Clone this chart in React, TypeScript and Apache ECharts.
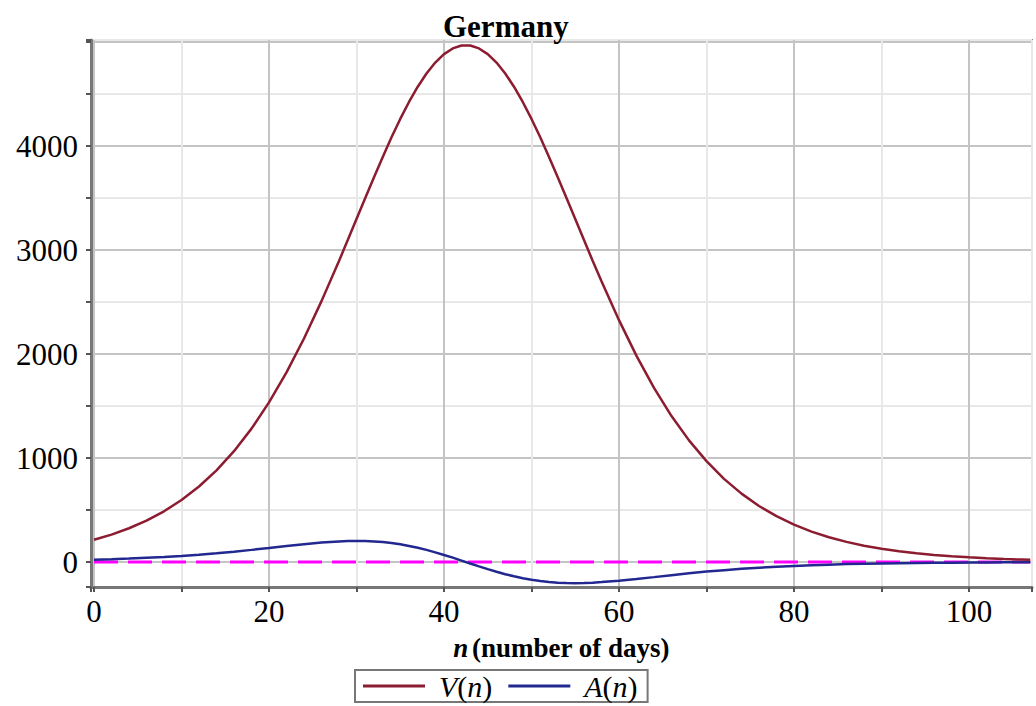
import React, { useEffect, useRef } from "react";
import * as echarts from "echarts";

const days = [0, 2, 4, 6, 8, 10, 12, 14, 16, 18, 20, 22, 24, 26, 28, 29, 30, 31, 32, 33, 34, 35, 36, 37, 38, 39, 40, 41, 42, 43, 44, 45, 46, 47, 48, 49, 50, 51, 52, 53, 54, 55, 56, 57, 58, 60, 62, 64, 66, 68, 70, 72, 74, 76, 78, 80, 82, 84, 86, 88, 90, 92, 94, 96, 98, 100, 102, 104, 106, 107];
const vValues = [215, 264, 325, 398, 488, 596, 726, 881, 1066, 1283, 1535, 1824, 2150, 2509, 2895, 3096, 3298, 3500, 3701, 3896, 4084, 4261, 4424, 4571, 4698, 4803, 4884, 4939, 4967, 4967, 4939, 4884, 4803, 4698, 4571, 4424, 4261, 4084, 3896, 3701, 3500, 3298, 3096, 2895, 2700, 2326, 1983, 1675, 1404, 1170, 970, 800, 658, 539, 441, 360, 293, 238, 194, 157, 128, 104, 84, 68, 55, 45, 36, 29, 24, 21];
const aValues = [22, 27, 33, 41, 49, 59, 71, 85, 100, 117, 135, 154, 172, 187, 198, 202, 203, 202, 198, 192, 183, 171, 155, 137, 117, 93, 68, 42, 14, -14, -42, -68, -93, -117, -137, -155, -171, -183, -192, -198, -202, -203, -202, -198, -193, -180, -163, -145, -126, -108, -92, -78, -65, -54, -45, -37, -30, -25, -20, -16, -13, -11, -9, -7, -6, -5, -4, -3, -3, -2];
const zeroLine = [[0, 0], [107, 0]];
const seriesNames = ["V(n)", "A(n)"];
const titleText = "Germany";
const xName = "(number of days)";

const FONT = "Liberation Serif";

export default function App() {
  const ref = useRef<HTMLDivElement>(null);
  useEffect(() => {
    if (!ref.current) return;
    const chart = echarts.init(ref.current, null, { renderer: "svg" });
    const vData = days.map((d, i) => [d, vValues[i]]);
    const aData = days.map((d, i) => [d, aValues[i]]);
    chart.setOption({
      animation: false,
      backgroundColor: "#ffffff",
      title: {
        text: titleText,
        left: 438,
        top: 6,
        textStyle: { fontFamily: FONT, fontSize: 31, fontWeight: "bold", color: "#000" },
      },
      legend: {
        data: seriesNames,
        left: 355,
        top: 670,
        icon: "rect",
        itemWidth: 62,
        itemHeight: 3,
        itemGap: 16,
        padding: [1, 10, 1, 8],
        borderColor: "#777",
        borderWidth: 2,
        formatter: (name: string) =>
          name === "V(n)" ? "{s|}{i|V}{u|(}{i|n}{u|)}" : "{s|}{i|A}{u|(}{i|n}{u|)}",
        textStyle: {
          fontFamily: FONT,
          fontSize: 30,
          color: "#000",
          rich: {
            s: { width: 9, fontSize: 14 },
            i: { fontFamily: FONT, fontSize: 30, fontStyle: "italic", color: "#000" },
            u: { fontFamily: FONT, fontSize: 30, color: "#000" },
          },
        },
      },
      grid: {
        left: 91,
        right: 4,
        top: 40,
        bottom: 119,
        show: true,
        borderColor: "#888",
        borderWidth: 2,
        containLabel: false,
      },
      xAxis: {
        type: "value",
        min: -0.343,
        max: 107.2,
        minInterval: 10,
        maxInterval: 10,
        splitNumber: 11,
        name: "{i|n} {b|" + xName + "}",
        nameLocation: "middle",
        nameGap: 47,
        nameTextStyle: {
          rich: {
            i: { fontFamily: FONT, fontSize: 27, fontStyle: "italic", fontWeight: "bold", color: "#000" },
            b: { fontFamily: FONT, fontSize: 27, fontWeight: "bold", color: "#000" },
          },
        },
        axisLine: { show: true, onZero: false, lineStyle: { color: "#777", width: 3 } },
        axisTick: { show: true, length: 5, lineStyle: { color: "#555", width: 2 } },
        axisLabel: {
          margin: 9,
          fontFamily: FONT,
          fontSize: 31,
          color: "#000",
          formatter: (v: number) => (Math.abs(v % 20) < 1e-6 ? String(Math.round(v)) : ""),
        },
        splitLine: { show: true, lineStyle: { color: ["#e8e8e8", "#c4c4c4"], width: 2 } },
      },
      yAxis: {
        type: "value",
        min: -240,
        max: 5020,
        minInterval: 500,
        maxInterval: 500,
        splitNumber: 10,
        axisLine: { show: true, onZero: false, lineStyle: { color: "#777", width: 3 } },
        axisTick: { show: true, length: 5, lineStyle: { color: "#555", width: 2 } },
        axisLabel: {
          margin: 13,
          fontFamily: FONT,
          fontSize: 31,
          color: "#000",
          formatter: (v: number) =>
            Math.abs(v % 1000) < 1e-6 && v >= 0 && v <= 4000 ? String(Math.round(v)) : "",
        },
        splitLine: { show: true, lineStyle: { color: ["#e8e8e8", "#c4c4c4"], width: 2 } },
      },
      series: [
        {
          name: "V(n)",
          type: "line",
          data: vData,
          showSymbol: false,
          lineStyle: { color: "#8c1c30", width: 2.5 },
          itemStyle: { color: "#8c1c30" },
          z: 3,
        },
        {
          name: "A(n)",
          type: "line",
          data: aData,
          showSymbol: false,
          lineStyle: { color: "#22288f", width: 2.5 },
          itemStyle: { color: "#22288f" },
          z: 3,
        },
        {
          name: "zero",
          type: "line",
          data: zeroLine,
          showSymbol: false,
          lineStyle: { color: "#ff00ff", width: 3, type: [24, 10] },
          z: 2,
        },
      ],
    });
    return () => chart.dispose();
  }, []);
  return (
    <div
      ref={ref}
      style={{ position: "absolute", left: 0, top: 0, width: 1036, height: 706 }}
    />
  );
}
